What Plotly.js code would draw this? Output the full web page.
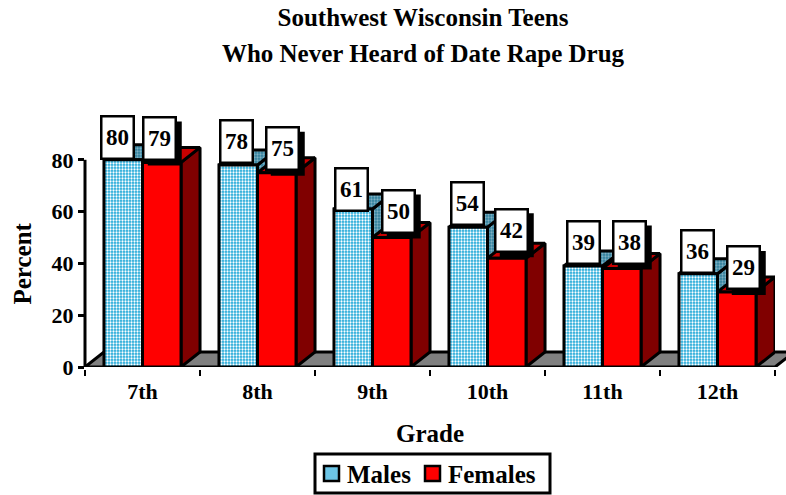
<!DOCTYPE html>
<html><head><meta charset="utf-8">
<script src="https://cdn.plot.ly/plotly-3.0.1.min.js"></script>
<style>html,body{margin:0;padding:0;background:#fff}</style></head>
<body><div id="chart" style="width:786px;height:495px"></div>
<script>
const grades = ['7th','8th','9th','10th','11th','12th'];
const males = [80,78,61,54,39,36];
const females = [79,75,50,42,38,29];
const yTicks = [0,20,40,60,80];
const legendNames = ['Males','Females'];
const yTitle = 'Percent';
// hand-placed label nudges (px) relative to each bar's top centre
const maleNudgeX = [-6,-2,-2,-1,0,-1];
const maleNudgeY = [22,23,20,24,23,22];
const femaleNudgeX = [-2,6,7,5,8,7];
const femaleNudgeY = [24,24,26,28,26,24];

const W=786,H=495,L=85,R=775,B=367,T=108;
const pxX=(R-L)/6, pxY=207.2/80;
const DX=19/pxX, DY=15/pxY, BW=0.335;
const xs=grades.map((g,i)=>i+0.5);

function faces(vals,off){
  const sx=[],sy=[],tx=[],ty=[];
  vals.forEach((v,i)=>{
    const a=xs[i]+off-BW/2,b=xs[i]+off+BW/2;
    sx.push(b,b+DX,b+DX,b,b,null); sy.push(0,DY,v+DY,v,0,null);
    tx.push(a,a+DX,b+DX,b,a,null); ty.push(v,v+DY,v+DY,v,v,null);
  });
  return {sx,sy,tx,ty};
}
const m=faces(males,-BW/2), f=faces(females,BW/2);
const edge={color:'#000',width:3};
function face(x,y,col,z,pat){
  const t={x,y,mode:'lines',fill:'toself',fillcolor:col,line:edge,showlegend:false,hoverinfo:'skip',zorder:z,type:'scatter'};
  if(pat)t.fillpattern=pat;
  return t;
}
const bar=(name,vals,fill,z,offset,pat)=>({type:'bar',name,x:xs,y:vals,width:BW,offset,zorder:z,hoverinfo:'skip',showlegend:false,
  marker:{color:fill,line:{color:'#000',width:3},pattern:pat||{}}});
const dither={shape:'.',fgcolor:'#ffffff',bgcolor:'#1fa8d8',size:3,solidity:0.45};
const ditherD={shape:'.',fgcolor:'#7fb0c2',bgcolor:'#2f7f9c',size:3,solidity:0.45};
const traces=[
  face(m.sx,m.sy,'#5f9fb5',1,ditherD),
  face(m.tx,m.ty,'#5f9fb5',1,ditherD),
  bar('Males',males,'#1fa8d8',2,-BW,dither),
  face(f.sx,f.sy,'#800000',3),
  face(f.tx,f.ty,'#c80000',3),
  bar('Females',females,'#ff0000',4,0)
];
const shapes=[], annotations=[];
const fl=DX/6, fy=DY;
const serif='"Liberation Serif",serif';
shapes.push({type:'path',xref:'paper',yref:'y',layer:'below',
  path:`M0,0 L${fl},${fy} L${1+fl},${fy} L1,0 Z`,fillcolor:'#808080',line:{color:'#000',width:3}});
shapes.push({type:'line',xref:'paper',yref:'y',x0:0,x1:0,y0:0,y1:yTicks[yTicks.length-1],line:{color:'#000',width:3},layer:'above'});
function lab(vals,off,nx,ny,shadow){
  vals.forEach((v,i)=>{
    const x=xs[i]+off;
    if(shadow){
      shapes.push({type:'rect',xref:'x',yref:'y',xsizemode:'pixel',ysizemode:'pixel',xanchor:x,yanchor:v,
        x0:nx[i]-17+5,x1:nx[i]+17+5,y0:ny[i]-22-5,y1:ny[i]+22-5,fillcolor:'#000',line:{width:0},layer:'above'});
    }
    annotations.push({x,y:v,xref:'x',yref:'y',xshift:nx[i],yshift:ny[i],text:'<b>'+v+'</b>',showarrow:false,
      width:30,height:40,bgcolor:'#fff',bordercolor:'#000',borderwidth:2.5,borderpad:0,align:'center',valign:'middle',
      font:{family:serif,size:23,color:'#000'}});
  });
}
lab(males,-BW/2,maleNudgeX,maleNudgeY,false);
lab(females,BW/2,femaleNudgeX,femaleNudgeY,true);
// legend frame, swatches, names
const pr=(a)=>(a-L)/(R-L), pt=(b)=>(B-b)/(B-T);
shapes.push({type:'rect',xref:'paper',yref:'paper',x0:pr(315),x1:pr(550),y0:pt(493),y1:pt(454),fillcolor:'#fff',line:{color:'#000',width:3},layer:'above'});
shapes.push({type:'rect',xref:'paper',yref:'paper',x0:pr(324),x1:pr(339),y0:pt(481),y1:pt(466),fillcolor:'#6cc5e6',line:{color:'#000',width:2.5},layer:'above'});
shapes.push({type:'rect',xref:'paper',yref:'paper',x0:pr(425),x1:pr(440),y0:pt(481),y1:pt(466),fillcolor:'#ff0000',line:{color:'#000',width:2.5},layer:'above'});
annotations.push({xref:'paper',yref:'paper',x:pr(345),y:pt(474.5),xanchor:'left',yanchor:'middle',showarrow:false,text:'<b>'+legendNames[0]+'</b>',font:{family:serif,size:25,color:'#000'}});
annotations.push({xref:'paper',yref:'paper',x:pr(446),y:pt(474.5),xanchor:'left',yanchor:'middle',showarrow:false,text:'<b>'+legendNames[1]+'</b>',font:{family:serif,size:25,color:'#000'}});
annotations.push({xref:'paper',yref:'paper',x:pr(22),y:pt(263.5),xanchor:'center',yanchor:'middle',showarrow:false,textangle:-90,text:'<b>'+yTitle+'</b>',font:{family:serif,size:25,color:'#000'}});
const font={family:serif,color:'#000'};
const layout={width:W,height:H,margin:{l:L,r:W-R,t:T,b:H-B,pad:0},paper_bgcolor:'#fff',plot_bgcolor:'rgba(0,0,0,0)',
  barmode:'overlay',showlegend:false,
  title:{text:'<b><span style="font-size:25px">Southwest Wisconsin Teens</span><br><span style="font-size:25px">Who Never Heard of Date Rape Drug</span></b>',x:423/786,xanchor:'center',y:0.948,yanchor:'top',font:{...font,size:27.7}},
  xaxis:{range:[0,6],tickmode:'array',tickvals:xs,ticktext:grades.map(g=>'<b>'+g+'</b>'),ticklen:0,ticklabelstandoff:3,showgrid:false,zeroline:false,
    showline:true,linecolor:'#000',linewidth:3,tickfont:{...font,size:22},
    title:{text:'<b>Grade</b>',font:{...font,size:25},standoff:22},
    minor:{dtick:1,tick0:0,ticks:'outside',ticklen:6,tickwidth:2,tickcolor:'#000',showgrid:false}},
  yaxis:{range:[0,(B-T)/pxY],tickmode:'array',tickvals:yTicks,ticktext:yTicks.map(s=>'<b>'+s+'</b>'),ticks:'outside',ticklen:6,tickwidth:3,tickcolor:'#000',
    showgrid:false,zeroline:false,showline:false,tickfont:{...font,size:22}},
  shapes,annotations};
Plotly.newPlot('chart',traces,layout,{displayModeBar:false,responsive:false});
</script></body></html>
